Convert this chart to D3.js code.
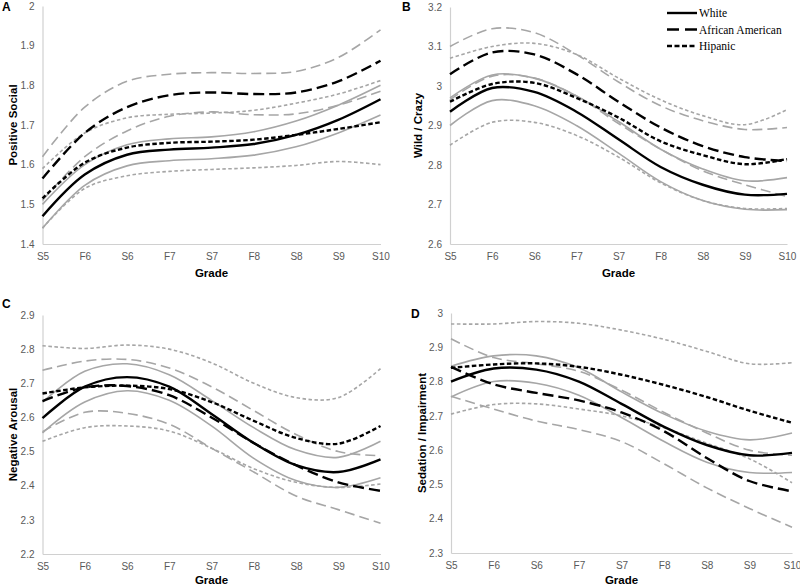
<!DOCTYPE html>
<html><head><meta charset="utf-8">
<script src="https://cdn.jsdelivr.net/npm/d3@7"></script>
<style>
body{margin:0;background:#fff;}
svg{display:block;}
</style></head>
<body>
<svg id="c" width="800" height="585"></svg>
<script>
const grades = ["S5","F6","S6","F7","S7","F8","S8","S9","S10"];
const groups = ["White","African American","Hipanic"];

// Panel A: Positive Social
const A_ticks = [1.4,1.5,1.6,1.7,1.8,1.9,2.0];
const A_white   = [1.47,1.575,1.625,1.638,1.643,1.652,1.675,1.713,1.765];
const A_whiteHi = [1.50,1.600,1.650,1.665,1.670,1.683,1.710,1.750,1.800];
const A_whiteLo = [1.44,1.548,1.597,1.610,1.615,1.624,1.645,1.680,1.725];
const A_aa      = [1.565,1.680,1.745,1.775,1.782,1.778,1.782,1.810,1.862];
const A_aaHi    = [1.62,1.745,1.810,1.828,1.832,1.830,1.835,1.870,1.940];
const A_aaLo    = [1.51,1.620,1.685,1.722,1.733,1.726,1.728,1.750,1.785];
const A_hisp    = [1.515,1.605,1.643,1.655,1.658,1.663,1.675,1.690,1.707];
const A_hispHi  = [1.59,1.680,1.718,1.727,1.730,1.737,1.755,1.778,1.812];
const A_hispLo  = [1.44,1.540,1.572,1.583,1.588,1.592,1.598,1.608,1.600];

// Panel B: Wild / Crazy
const B_ticks = [2.6,2.7,2.8,2.9,3.0,3.1,3.2];
const B_white   = [2.935,2.995,2.985,2.935,2.865,2.795,2.750,2.725,2.727];
const B_whiteHi = [2.970,3.028,3.020,2.975,2.910,2.840,2.790,2.760,2.768];
const B_whiteLo = [2.900,2.963,2.950,2.900,2.830,2.758,2.710,2.688,2.687];
const B_aa      = [3.030,3.085,3.080,3.030,2.960,2.895,2.848,2.820,2.810];
const B_aaHi    = [3.100,3.145,3.135,3.080,3.010,2.950,2.912,2.890,2.895];
const B_aaLo    = [2.965,3.025,3.020,2.975,2.905,2.840,2.785,2.750,2.720];
const B_hisp    = [2.960,3.005,3.008,2.970,2.920,2.860,2.825,2.802,2.815];
const B_hispHi  = [3.070,3.100,3.108,3.080,3.020,2.965,2.925,2.902,2.940];
const B_hispLo  = [2.850,2.908,2.908,2.875,2.820,2.755,2.710,2.690,2.690];

// Panel C: Negative Arousal
const C_ticks = [2.2,2.3,2.4,2.5,2.6,2.7,2.8,2.9];
const C_white   = [2.598,2.690,2.718,2.690,2.610,2.525,2.460,2.440,2.477];
const C_whiteHi = [2.645,2.735,2.757,2.725,2.650,2.570,2.505,2.483,2.530];
const C_whiteLo = [2.555,2.645,2.678,2.650,2.575,2.480,2.415,2.395,2.423];
const C_aa      = [2.648,2.688,2.692,2.665,2.600,2.525,2.460,2.410,2.385];
const C_aaHi    = [2.738,2.765,2.770,2.745,2.690,2.620,2.550,2.500,2.488];
const C_aaLo    = [2.558,2.615,2.612,2.580,2.510,2.440,2.370,2.330,2.290];
const C_hisp    = [2.670,2.688,2.693,2.683,2.645,2.590,2.540,2.523,2.575];
const C_hispHi  = [2.810,2.802,2.812,2.800,2.760,2.700,2.658,2.658,2.743];
const C_hispLo  = [2.530,2.570,2.575,2.560,2.510,2.450,2.410,2.395,2.405];

// Panel D: Sedation / Impairment
const D_ticks = [2.3,2.4,2.5,2.6,2.7,2.8,2.9,3.0];
const D_white   = [2.800,2.838,2.835,2.800,2.735,2.668,2.615,2.585,2.592];
const D_whiteHi = [2.845,2.875,2.875,2.840,2.770,2.705,2.655,2.630,2.650];
const D_whiteLo = [2.755,2.800,2.795,2.760,2.695,2.625,2.565,2.535,2.535];
const D_aa      = [2.843,2.792,2.767,2.745,2.710,2.655,2.577,2.510,2.480];
const D_aaHi    = [2.925,2.870,2.852,2.830,2.775,2.710,2.650,2.600,2.585];
const D_aaLo    = [2.757,2.720,2.685,2.660,2.625,2.560,2.490,2.430,2.375];
const D_hisp    = [2.840,2.850,2.853,2.843,2.820,2.790,2.755,2.715,2.680];
const D_hispHi  = [2.968,2.968,2.975,2.970,2.950,2.923,2.888,2.852,2.855];
const D_hispLo  = [2.705,2.733,2.735,2.720,2.700,2.665,2.620,2.575,2.505];

const svg = d3.select("#c");
const tickFont = "'Liberation Sans Narrow','Arial Narrow','Liberation Sans',sans-serif";
const boldFont = "'Liberation Sans',Arial,sans-serif";

const styles = {
  est: {stroke:"#000", width:2.4},
  ci:  {stroke:"#a6a6a6", width:1.6}
};
const dashes = {
  White: {est:null, ci:null},
  "African American": {est:"11,5", ci:"10,5"},
  Hipanic: {est:"4.5,2.5", ci:"3.5,2.5"}
};

function panel(cfg){
  const g = svg.append("g");
  const x = d3.scalePoint().domain(grades).range(cfg.xr);
  const y = d3.scaleLinear().domain(cfg.yd).range(cfg.yr);
  // axes
  const ya = d3.axisLeft(y).tickValues(cfg.ticks).tickSize(0).tickPadding(8)
     .tickFormat(d3.format("~g"));
  const yg = g.append("g").attr("transform",`translate(${cfg.xr[0]},0)`).call(ya);
  const xa = d3.axisBottom(x).tickSize(0).tickPadding(9);
  const xg = g.append("g").attr("transform",`translate(0,${cfg.yr[0]})`).call(xa);
  [yg,xg].forEach(a=>{
    a.select(".domain").attr("stroke","#d0d0d0").attr("stroke-width",1.2);
    a.selectAll("text").attr("fill","#595959").style("font-family",tickFont).style("font-size","10px");
  });
  // lines
  const line = d3.line().x((d,i)=>x(grades[i])).y(d=>y(d)).curve(d3.curveCatmullRom.alpha(0.5));
  const order = [];
  cfg.series.forEach(s=>{ order.push({v:s.hi,grp:s.grp,k:"ci"}); order.push({v:s.lo,grp:s.grp,k:"ci"}); });
  cfg.series.forEach(s=>{ order.push({v:s.est,grp:s.grp,k:"est"}); });
  order.forEach(o=>{
    g.append("path").datum(o.v).attr("d",line).attr("fill","none")
     .attr("stroke",styles[o.k].stroke).attr("stroke-width",styles[o.k].width)
     .attr("stroke-dasharray",dashes[o.grp][o.k]);
  });
  // titles
  g.append("text").attr("transform",`translate(${cfg.ytx},${(cfg.yr[0]+cfg.yr[1])/2}) rotate(-90)`)
   .attr("text-anchor","middle").attr("dy","0.35em").style("font-family",boldFont).style("font-weight","bold")
   .style("font-size","11.5px").text(cfg.ytitle);
  g.append("text").attr("x",(cfg.xr[0]+cfg.xr[1])/2).attr("y",cfg.gy).attr("text-anchor","middle")
   .style("font-family",boldFont).style("font-weight","bold").style("font-size","11.5px").text("Grade");
  g.append("text").attr("x",cfg.lx).attr("y",cfg.ly).style("font-family",boldFont).style("font-weight","bold")
   .style("font-size","12px").text(cfg.letter);
}

panel({letter:"A", lx:2, ly:11, xr:[42.5,380.5], yr:[244,6], yd:[1.4,2.0], ticks:A_ticks, ytx:13, gy:277,
  ytitle:"Positive Social",
  series:[{grp:"White",est:A_white,hi:A_whiteHi,lo:A_whiteLo},{grp:"African American",est:A_aa,hi:A_aaHi,lo:A_aaLo},{grp:"Hipanic",est:A_hisp,hi:A_hispHi,lo:A_hispLo}]});
panel({letter:"B", lx:402, ly:11, xr:[450,787], yr:[244,7], yd:[2.6,3.2], ticks:B_ticks, ytx:418, gy:277,
  ytitle:"Wild / Crazy",
  series:[{grp:"White",est:B_white,hi:B_whiteHi,lo:B_whiteLo},{grp:"African American",est:B_aa,hi:B_aaHi,lo:B_aaLo},{grp:"Hipanic",est:B_hisp,hi:B_hispHi,lo:B_hispLo}]});
panel({letter:"C", lx:2, ly:308, xr:[42.5,380.5], yr:[554,315], yd:[2.2,2.9], ticks:C_ticks, ytx:13, gy:584,
  ytitle:"Negative Arousal",
  series:[{grp:"White",est:C_white,hi:C_whiteHi,lo:C_whiteLo},{grp:"African American",est:C_aa,hi:C_aaHi,lo:C_aaLo},{grp:"Hipanic",est:C_hisp,hi:C_hispHi,lo:C_hispLo}]});
panel({letter:"D", lx:411, ly:318, xr:[451,792], yr:[553,313], yd:[2.3,3.0], ticks:D_ticks, ytx:422, gy:584,
  ytitle:"Sedation / Impairment",
  series:[{grp:"White",est:D_white,hi:D_whiteHi,lo:D_whiteLo},{grp:"African American",est:D_aa,hi:D_aaHi,lo:D_aaLo},{grp:"Hipanic",est:D_hisp,hi:D_hispHi,lo:D_hispLo}]});

// legend
const lg = svg.append("g");
groups.forEach((gname,i)=>{
  const yy = 13 + i*16.5;
  lg.append("line").attr("x1",667).attr("x2",697).attr("y1",yy).attr("y2",yy)
    .attr("stroke","#000").attr("stroke-width",2.4)
    .attr("stroke-dasharray", i===0?null:(i===1?"12,6":"5,2.5"));
  lg.append("text").attr("x",699).attr("y",yy).attr("dy","0.35em")
    .style("font-family","'Liberation Serif','Times New Roman',serif").style("font-size","11.5px").text(gname);
});
</script>
</body></html>
